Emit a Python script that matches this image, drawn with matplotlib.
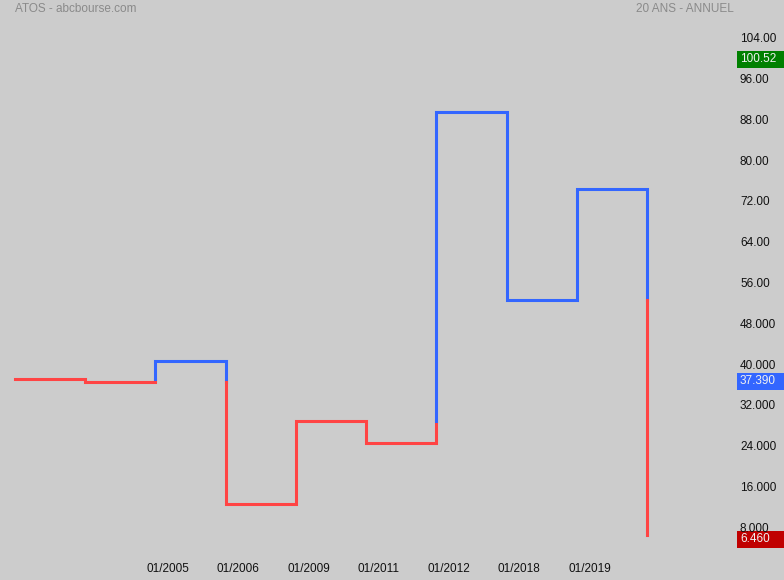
import matplotlib
matplotlib.use('Agg')
import matplotlib.pyplot as plt
import matplotlib.transforms as mtransforms

plt.rcParams['font.family'] = ['Liberation Sans', 'DejaVu Sans']

# niveaux de retournement du graphe Kagi (annuel, 20 ans)
levels = [37.02, 36.43, 40.67, 12.51, 28.90, 24.53, 89.49, 52.51, 74.27, 6.46]
date_labels = ['01/2005', '01/2006', '01/2009', '01/2011', '01/2012', '01/2018', '01/2019']
date_pos = [2, 3, 4, 5, 6, 7, 8]
y_ticks = [104, 96, 88, 80, 72, 64, 56, 48, 40, 32, 24, 16, 8]
y_tick_labels = ['104.00', '96.00', '88.00', '80.00', '72.00', '64.00', '56.00',
                 '48.000', '40.000', '32.000', '24.000', '16.000', '8.000']
price_tags = [100.52, 37.39, 6.46]
price_tag_text = ['100.52', '37.390', '6.460']
price_tag_colors = ['#008000', '#3366ff', '#c00000']

UP = '#3366ff'
DOWN = '#ff4444'
BG = '#cccccc'


def kagi_runs(levels):
    # découpe la ligne en tronçons bleus (yang) / rouges (yin)
    runs = []
    color = DOWN
    pts = [(0, levels[0]), (1, levels[0])]
    for i in range(len(levels) - 1):
        x = i + 1
        a, b = levels[i], levels[i + 1]
        ref = levels[i - 1] if i >= 1 else levels[0]
        if b > a and color == DOWN and b > ref:
            pts.append((x, ref))
            runs.append((pts, color))
            color = UP
            pts = [(x, ref)]
        elif b < a and color == UP and b < ref:
            pts.append((x, ref))
            runs.append((pts, color))
            color = DOWN
            pts = [(x, ref)]
        pts.append((x, b))
        if i + 1 < len(levels) - 1:
            pts.append((x + 1, b))
    runs.append((pts, color))
    return runs


fig = plt.figure(figsize=(7.84, 5.8), dpi=100, facecolor=BG)
ax = fig.add_axes([0, 22 / 580, 735 / 784, 1 - 22 / 580])
ax.set_facecolor(BG)

for pts, col in kagi_runs(levels):
    xs = [p[0] for p in pts]
    ys = [p[1] for p in pts]
    ax.plot(xs, ys, color=col, linewidth=2.2, solid_joinstyle='miter',
            solid_capstyle='projecting')

ax.set_xlim(-0.2136, 10.253)
ax.set_ylim(1.98, 111.39)

for s in ax.spines.values():
    s.set_visible(False)

ax.yaxis.tick_right()
ax.set_yticks(y_ticks, y_tick_labels)
ax.set_xticks([p + 0.18 for p in date_pos], date_labels)
ax.tick_params(axis='y', length=0, pad=3.6, labelsize=8.5, labelcolor='#111111')
ax.tick_params(axis='x', length=0, pad=3.6, labelsize=8.5, labelcolor='#111111')

# étiquettes de prix à droite
blend = mtransforms.blended_transform_factory(ax.transAxes, ax.transData)
for v, txt, col in zip(price_tags, price_tag_text, price_tag_colors):
    yc = v - 0.78
    ax.add_patch(plt.Rectangle((737 / 735, yc - 1.67), 47 / 735, 3.33,
                               transform=blend, facecolor=col, edgecolor='none',
                               clip_on=False))
    ax.text(740 / 735, yc, txt, transform=blend, va='center', ha='left',
            fontsize=8.5, color='#f0f0f0', clip_on=False)

fig.text(15 / 784, 1 - 9 / 580, 'ATOS - abcbourse.com', va='center', ha='left',
         fontsize=8.5, color='#8a8a8a')
fig.text(734 / 784, 1 - 9 / 580, '20 ANS - ANNUEL', va='center', ha='right',
         fontsize=8.5, color='#8a8a8a')

plt.savefig('out.png', dpi=100, facecolor=BG)
plt.close()
